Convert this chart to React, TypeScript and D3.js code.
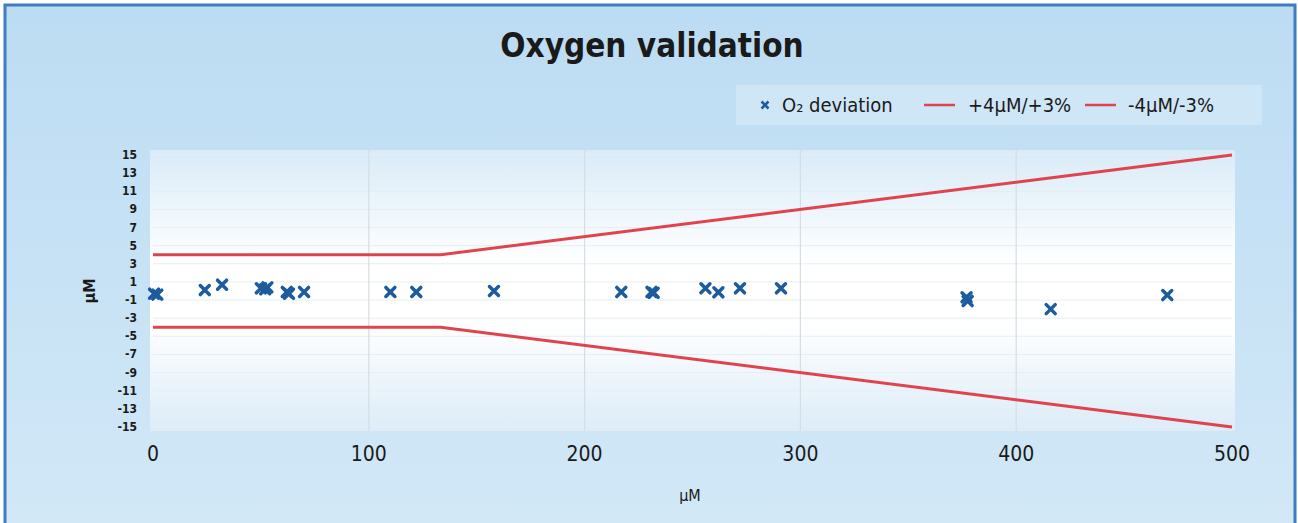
import React from "react";
import * as d3 from "d3";

// O2 deviation measurements (x = reference µM, y = deviation µM)
const refValues = [0.5, 2, 24, 32, 50, 52, 53, 62, 63, 70, 110, 122, 158, 217, 231, 232, 256, 262, 272, 291, 377, 377.5, 416, 470];
const deviations = [-0.3, -0.4, 0.1, 0.7, 0.3, 0.2, 0.4, -0.1, -0.3, -0.1, -0.1, -0.1, 0, -0.1, -0.1, -0.2, 0.3, -0.15, 0.3, 0.3, -0.7, -1.1, -2.0, -0.45];

// acceptance limits: ±4 µM or ±3 %
const limitX = [0, 133.3, 500];
const upperLimit = [4, 4, 15];
const lowerLimit = [-4, -4, -15];

const xTicks = [0, 100, 200, 300, 400, 500];
const yTicks = [15, 13, 11, 9, 7, 5, 3, 1, -1, -3, -5, -7, -9, -11, -13, -15];

const W = 1298;
const H = 523;
const FONT = "'DejaVu Sans Condensed', 'DejaVu Sans', sans-serif";
const BLUE = "#1b5c9e";
const RED = "#e0434d";

export default function App() {
  const x = d3.scaleLinear().domain([0, 500]).range([153, 1232]);
  const y = d3.scaleLinear().domain([-15, 15]).range([427, 155]);

  const line = d3
    .line<number>()
    .x((_, i) => x(limitX[i]))
    .y((d) => y(d));

  const cross = (cx: number, cy: number, r: number) =>
    `M${cx - r},${cy - r}L${cx + r},${cy + r}M${cx - r},${cy + r}L${cx + r},${cy - r}`;

  const minorY = d3.range(-15, 16, 2);

  return (
    <svg width={W} height={H} style={{ position: "absolute", left: 0, top: 0 }}>
      <defs>
        <linearGradient id="bg" x1="0" y1="0" x2="0" y2="1">
          <stop offset="0%" stopColor="#bcdcf3" />
          <stop offset="100%" stopColor="#d2e8f7" />
        </linearGradient>
        <linearGradient id="plotBg" x1="0" y1="0" x2="0" y2="1">
          <stop offset="0%" stopColor="#d9ebf8" />
          <stop offset="40%" stopColor="#ffffff" />
          <stop offset="62%" stopColor="#ffffff" />
          <stop offset="100%" stopColor="#dcecf8" />
        </linearGradient>
      </defs>
      <rect x={0} y={0} width={W} height={H} fill="#ffffff" />
      <rect x={5} y={5} width={W - 8} height={H} fill="url(#bg)" stroke="#3d7dc0" strokeWidth={3} />

      {/* title */}
      <text x={652} y={57} textAnchor="middle" fontFamily={FONT} fontWeight="bold" fontSize={33} fill="#1a1a1a">
        Oxygen validation
      </text>

      {/* legend */}
      <rect x={736} y={85} width={526} height={40} fill="#cfe6f7" />
      <path d={cross(765, 105, 3.5)} stroke={BLUE} strokeWidth={2.5} />
      <text x={782} y={112} fontFamily={FONT} fontSize={20} fill="#1a1a1a">
        O₂ deviation
      </text>
      <line x1={924} x2={955} y1={105} y2={105} stroke={RED} strokeWidth={2.5} />
      <text x={968} y={112} fontFamily={FONT} fontSize={20} fill="#1a1a1a">
        +4µM/+3%
      </text>
      <line x1={1085} x2={1116} y1={105} y2={105} stroke={RED} strokeWidth={2.5} />
      <text x={1128} y={112} fontFamily={FONT} fontSize={20} fill="#1a1a1a">
        -4µM/-3%
      </text>

      {/* plot area */}
      <rect x={150} y={150} width={1085} height={281} fill="url(#plotBg)" />
      {minorY.map((v) => (
        <line key={"h" + v} x1={153} x2={1232} y1={y(v)} y2={y(v)} stroke="#e6edf3" strokeWidth={1} />
      ))}
      {xTicks.slice(1, -1).map((v) => (
        <line key={"v" + v} x1={x(v)} x2={x(v)} y1={150} y2={431} stroke="#d6dde4" strokeWidth={1.2} />
      ))}

      {/* limits */}
      <path d={line(upperLimit) || ""} fill="none" stroke={RED} strokeWidth={3} />
      <path d={line(lowerLimit) || ""} fill="none" stroke={RED} strokeWidth={3} />

      {/* points */}
      {refValues.map((v, i) => (
        <path key={"p" + i} d={cross(x(v), y(deviations[i]), 4.5)} stroke={BLUE} strokeWidth={3.5} strokeLinecap="round" />
      ))}

      {/* y axis */}
      {yTicks.map((v) => (
        <text key={"yt" + v} x={137} y={y(v) + 4} textAnchor="end" fontFamily={FONT} fontWeight="bold" fontSize={12} fill="#1a1a1a">
          {v}
        </text>
      ))}
      <text
        transform={`translate(95,${y(0)}) rotate(-90)`}
        textAnchor="middle"
        fontFamily={FONT}
        fontWeight="bold"
        fontSize={16}
        fill="#1a1a1a"
      >
        µM
      </text>

      {/* x axis */}
      {xTicks.map((v) => (
        <text key={"xt" + v} x={x(v)} y={461} textAnchor="middle" fontFamily={FONT} fontSize={21} fill="#1a1a1a">
          {v}
        </text>
      ))}
      <text x={690} y={501} textAnchor="middle" fontFamily={FONT} fontSize={16} fill="#1a1a1a">
        µM
      </text>
    </svg>
  );
}
